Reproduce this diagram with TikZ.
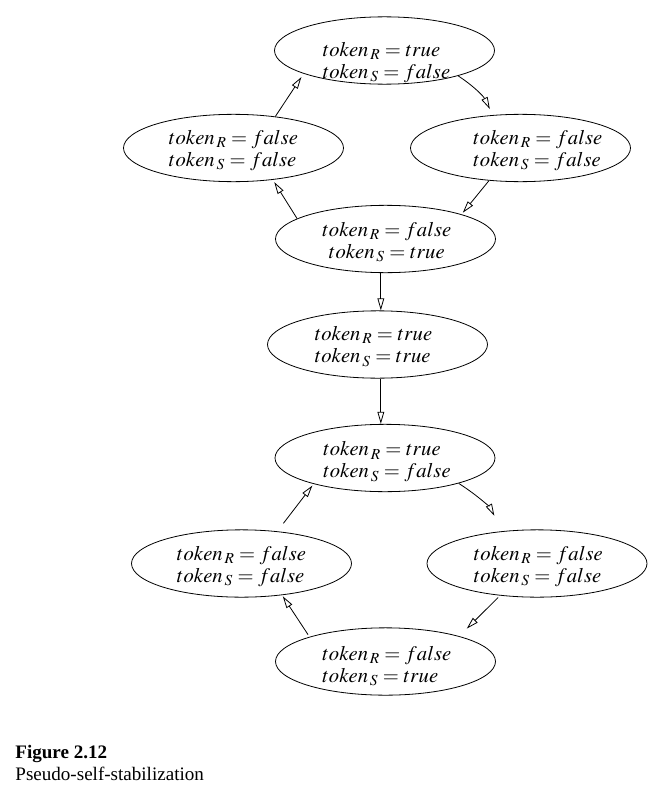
\documentclass[tikz,border=0pt]{standalone}
\usepackage{mathptmx}
\usepackage{fontspec}
\setmainfont{Liberation Serif}
\DeclareMathSizes{15.5}{15.5}{11.5}{9}
\usetikzlibrary{shapes.geometric,arrows.meta,calc}

\begin{document}
\begin{tikzpicture}[x=0.75pt,y=-0.75pt,line width=0.6pt,
  state/.style={ellipse,draw,minimum width=165pt,minimum height=50.5pt,inner sep=0pt},
  val/.style={font=\fontsize{15.5}{16.5}\selectfont,align=left,inner sep=0pt},
  arr/.style={-{Triangle[open,length=9pt,width=5pt]},shorten >=#1},
  arr/.default=0pt]
\useasboundingbox (0,0) rectangle (670,792);

% first ring
\node[state,label={[val,xshift=1.5pt,yshift=-9pt]center:{$token_{\,R} = true$\\$token_{\,S} = false$}}] (a1) at (384.5,50.5) {};
\node[state,label={[val,yshift=-2pt]center:{$token_{\,R} = false$\\$token_{\,S} = false$}}] (l1) at (233.5,148) {};
\node[state,label={[val,xshift=13pt,yshift=-2pt]center:{$token_{\,R} = false$\\$token_{\,S} = false$}}] (r1) at (520.5,148) {};
\node[state,label={[val,align=center,xshift=1pt,yshift=-2.5pt]center:{$token_{\,R} = false$\\$token_{\,S} = true$}}] (b1) at (385.5,239) {};

% middle
\node[state,label={[val,xshift=-3pt,yshift=-1.5pt]center:{$token_{\,R} = true$\\$token_{\,S} = true$}}] (m) at (377.5,344.5) {};

% second ring
\node[state,label={[val,xshift=1.5pt,yshift=-3pt]center:{$token_{\,R} = true$\\$token_{\,S} = false$}}] (a2) at (385,458) {};
\node[state,label={[val,yshift=-2pt]center:{$token_{\,R} = false$\\$token_{\,S} = false$}}] (l2) at (241.5,563.5) {};
\node[state,label={[val,xshift=1pt,yshift=-2pt]center:{$token_{\,R} = false$\\$token_{\,S} = false$}}] (r2) at (537,563.5) {};
\node[state,label={[val,xshift=1pt,yshift=-3.5pt]center:{$token_{\,R} = false$\\$token_{\,S} = true$}}] (b2) at (385.5,661.5) {};

\draw[arr=5pt] (a1.-19) to[bend left=15] (r1.130);
\draw[arr=1.5pt] (r1.-134) -- (b1.18);
\draw[arr=2pt] (b1.167) -- (l1.-39);
\draw[arr=3pt] (l1.37) -- (a1.-164);

\draw[arr] ([xshift=2.5pt]m.north |- b1.south) -- ([xshift=2.5pt]m.north);
\draw[arr] ([xshift=2.5pt]m.south) -- ([xshift=2.5pt]m.south |- a2.north);

\draw[arr=13pt] (a2.-19) to[bend left=15] (r2.137);
\draw[arr=8pt,shorten <=2pt] (r2.-139) -- (b2.19);
\draw[arr=1pt,shorten <=2pt] (b2.162) -- (l2.-38);
\draw[arr=1.5pt,shorten <=7.5pt] (l2.42) -- (a2.-160);

\node[anchor=north west,align=left,inner sep=0pt,font=\fontsize{14.3}{16.5}\selectfont] (caption) at (15,745)
  {\textbf{Figure 2.12}\\Pseudo-self-stabilization};
\end{tikzpicture}
\end{document}
